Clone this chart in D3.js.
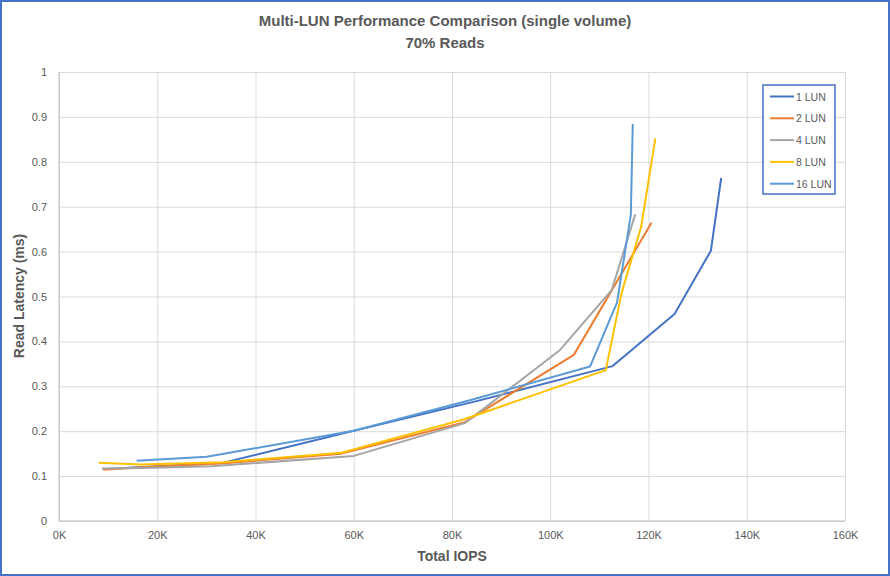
<!DOCTYPE html>
<html>
<head>
<meta charset="utf-8">
<script src="https://cdn.jsdelivr.net/npm/d3@7"></script>
<style>
  body { margin: 0; background: #fff; }
  text { font-family: "Liberation Sans", Arial, sans-serif; fill: #595959; }
</style>
</head>
<body>
<div id="chart"></div>
<script>
// series names, drawing order as in the legend
var seriesNames = ["1 LUN", "2 LUN", "4 LUN", "8 LUN", "16 LUN"];
var seriesColors = ["#4472C4", "#ED7D31", "#A5A5A5", "#FFC000", "#5B9BD5"];

// total IOPS (in K) and read latency (ms)
var lun1Iops = [9.5, 17, 33.5, 60, 85, 112.7, 125.3, 132.7, 134.8];
var lun1Lat  = [0.116, 0.120, 0.130, 0.201, 0.267, 0.345, 0.461, 0.602, 0.764];
var lun2Iops = [9.0, 17.5, 33, 57.5, 82.6, 104.8, 120.6];
var lun2Lat  = [0.114, 0.120, 0.128, 0.150, 0.220, 0.370, 0.664];
var lun4Iops = [8.7, 17, 31, 60, 82.6, 102, 112.5, 117.3];
var lun4Lat  = [0.117, 0.118, 0.122, 0.145, 0.218, 0.381, 0.514, 0.683];
var lun8Iops = [8.1, 16.8, 33.4, 57.5, 82.3, 111.3, 114.5, 118.5, 121.4];
var lun8Lat  = [0.130, 0.126, 0.131, 0.152, 0.226, 0.336, 0.507, 0.655, 0.852];
var lun16Iops = [15.8, 30.1, 60, 84, 108.1, 113.6, 116.4, 116.8];
var lun16Lat  = [0.134, 0.143, 0.201, 0.270, 0.344, 0.487, 0.682, 0.884];

var xTicks = [0, 20, 40, 60, 80, 100, 120, 140, 160];
var yTicks = [0, 0.1, 0.2, 0.3, 0.4, 0.5, 0.6, 0.7, 0.8, 0.9, 1];

var iopsList = [lun1Iops, lun2Iops, lun4Iops, lun8Iops, lun16Iops];
var latList = [lun1Lat, lun2Lat, lun4Lat, lun8Lat, lun16Lat];

var width = 890, height = 576;
var plotLeft = 59, plotRight = 845, plotTop = 72, plotBottom = 521;
var narrow = "'Liberation Sans Narrow', 'Liberation Sans', Arial, sans-serif";

var svg = d3.select("#chart").append("svg")
  .attr("width", width)
  .attr("height", height);

svg.append("rect")
  .attr("x", 1).attr("y", 1)
  .attr("width", width - 2).attr("height", height - 2)
  .attr("fill", "#fff")
  .attr("stroke", "#4472C4")
  .attr("stroke-width", 2);

var xScale = d3.scaleLinear().domain([0, 160]).range([plotLeft, plotRight]);
var yScale = d3.scaleLinear().domain([0, 1]).range([plotBottom, plotTop]);

// gridlines
svg.append("g")
  .attr("transform", "translate(0," + plotBottom + ")")
  .call(d3.axisBottom(xScale).tickValues(xTicks).tickSize(-(plotBottom - plotTop)).tickFormat(""))
  .call(function(g) {
    g.select(".domain").remove();
    g.selectAll("line").attr("stroke", "#d9d9d9").attr("stroke-width", 1);
  });

svg.append("g")
  .attr("transform", "translate(" + plotLeft + ",0)")
  .call(d3.axisLeft(yScale).tickValues(yTicks).tickSize(-(plotRight - plotLeft)).tickFormat(""))
  .call(function(g) {
    g.select(".domain").remove();
    g.selectAll("line").attr("stroke", "#d9d9d9").attr("stroke-width", 1);
  });

// axis lines
svg.append("line")
  .attr("x1", plotLeft).attr("x2", plotLeft)
  .attr("y1", plotTop).attr("y2", plotBottom)
  .attr("stroke", "#bfbfbf");
svg.append("line")
  .attr("x1", plotLeft).attr("x2", plotRight)
  .attr("y1", plotBottom).attr("y2", plotBottom)
  .attr("stroke", "#bfbfbf");

// tick labels
svg.append("g")
  .attr("transform", "translate(0," + plotBottom + ")")
  .call(d3.axisBottom(xScale).tickValues(xTicks).tickSize(0).tickPadding(10)
    .tickFormat(function(d) { return d + "K"; }))
  .call(function(g) {
    g.select(".domain").remove();
    g.selectAll("text").style("font-size", "11px").attr("fill", "#595959")
      .style("font-family", narrow);
  });

svg.append("g")
  .attr("transform", "translate(" + plotLeft + ",0)")
  .call(d3.axisLeft(yScale).tickValues(yTicks).tickSize(0).tickPadding(12)
    .tickFormat(function(d) { return d3.format("")(d); }))
  .call(function(g) {
    g.select(".domain").remove();
    g.selectAll("text").style("font-size", "11px").attr("fill", "#595959")
      .style("font-family", narrow);
  });

// series lines
var line = d3.line()
  .x(function(d) { return xScale(d[0]); })
  .y(function(d) { return yScale(d[1]); });

seriesNames.forEach(function(name, i) {
  var pts = d3.zip(iopsList[i], latList[i]);
  svg.append("path")
    .datum(pts)
    .attr("fill", "none")
    .attr("stroke", seriesColors[i])
    .attr("stroke-width", 2)
    .attr("stroke-linejoin", "round")
    .attr("d", line);
});

// titles
svg.append("text")
  .attr("x", 445).attr("y", 26)
  .attr("text-anchor", "middle")
  .style("font-size", "15px")
  .style("font-weight", 700)
  .style("font-family", narrow)
  .text("Multi-LUN Performance Comparison (single volume)");
svg.append("text")
  .attr("x", 445).attr("y", 48)
  .attr("text-anchor", "middle")
  .style("font-size", "15px")
  .style("font-weight", 700)
  .style("font-family", narrow)
  .text("70% Reads");

svg.append("text")
  .attr("x", 452).attr("y", 561)
  .attr("text-anchor", "middle")
  .style("font-size", "14px")
  .style("font-weight", 700)
  .style("font-family", narrow)
  .text("Total IOPS");

svg.append("text")
  .attr("transform", "translate(24,296) rotate(-90)")
  .attr("text-anchor", "middle")
  .style("font-size", "14px")
  .style("font-weight", 700)
  .style("font-family", narrow)
  .text("Read Latency (ms)");

// legend
var legend = svg.append("g");
legend.append("rect")
  .attr("x", 763).attr("y", 85)
  .attr("width", 72).attr("height", 109)
  .attr("fill", "#fff")
  .attr("stroke", "#4472C4")
  .attr("stroke-width", 1.5);

seriesNames.forEach(function(name, i) {
  var y = 96.5 + i * 21.8;
  legend.append("line")
    .attr("x1", 770).attr("x2", 794)
    .attr("y1", y).attr("y2", y)
    .attr("stroke", seriesColors[i])
    .attr("stroke-width", 2);
  legend.append("text")
    .attr("x", 796).attr("y", y + 4)
    .style("font-size", "10.5px")
    .style("font-family", narrow)
    .text(name);
});
</script>
</body>
</html>
